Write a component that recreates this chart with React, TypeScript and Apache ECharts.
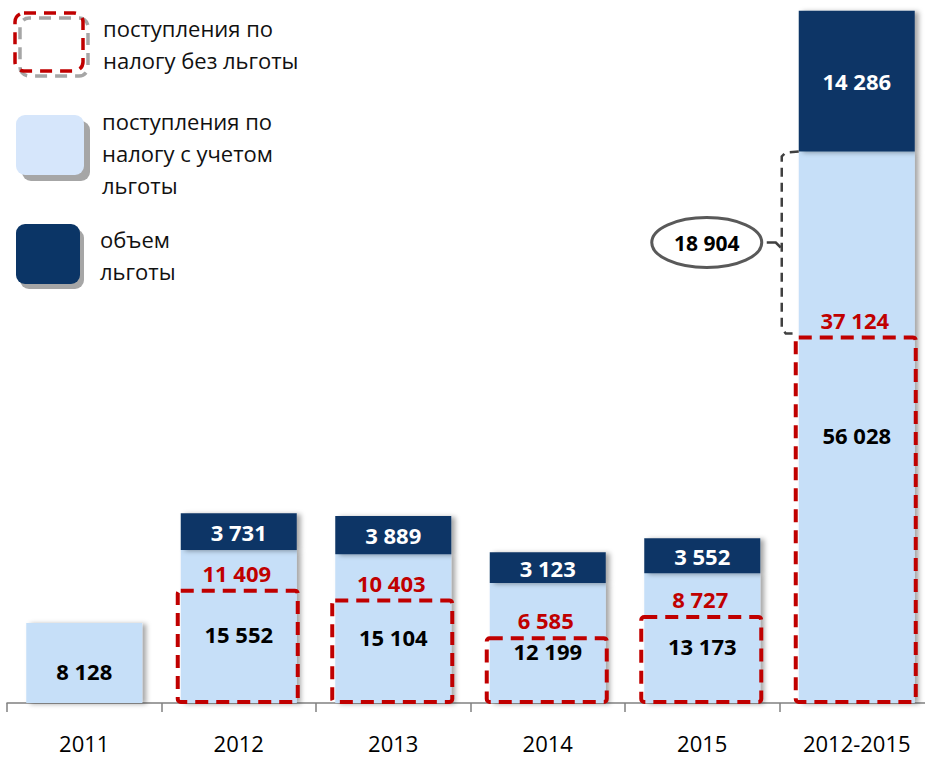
import React, { useEffect, useRef } from "react";
import * as echarts from "echarts";

const categories = ["2011", "2012", "2013", "2014", "2015", "2012-2015"];
const withBenefit = [8128, 15552, 15104, 12199, 13173, 56028];
const benefitVolume: (number | null)[] = [null, 3731, 3889, 3123, 3552, 14286];
const withoutBenefit: (number | null)[] = [null, 11409, 10403, 6585, 8727, 37124];

const legendWithout = ["поступления по", "налогу без льготы"];
const legendWith = ["поступления по", "налогу с учетом", "льготы"];
const legendVolume = ["объем", "льготы"];

const FONT = '"Open Sans", "Noto Sans", sans-serif';
const RED = "#C00000";
const LIGHT = "#C6DFF8";
const DARK = "#0B3566";

const fmt = (v: number) => String(v).replace(/\B(?=(\d{3})+(?!\d))/g, " ");

export default function App() {
  const ref = useRef<HTMLDivElement>(null);
  useEffect(() => {
    if (!ref.current) return;
    const chart = echarts.init(ref.current, null, { renderer: "svg" });
    const shadow = {
      shadowColor: "rgba(0,0,0,0.35)",
      shadowBlur: 5,
      shadowOffsetX: 4,
      shadowOffsetY: 1,
    };
    const dashedData = withoutBenefit
      .map((v, i) => (v == null ? null : [i, v]))
      .filter((d) => d != null);

    chart.setOption({
      animation: false,
      textStyle: { fontFamily: FONT },
      grid: { left: 7, right: 11, top: 9, bottom: 54 },
      xAxis: {
        type: "category",
        data: categories,
        axisLine: { lineStyle: { color: "#808080", width: 1.5 } },
        axisTick: { show: true, length: 9, lineStyle: { color: "#808080", width: 1.5 } },
        axisLabel: { color: "#000", fontSize: 22, margin: 29, fontFamily: FONT },
      },
      yAxis: {
        type: "value",
        min: 0,
        max: 70500,
        show: false,
        splitLine: { show: false },
      },
      series: [
        {
          type: "bar",
          stack: "s",
          barWidth: 116,
          data: withBenefit,
          itemStyle: { color: LIGHT, ...shadow },
          label: {
            show: true,
            position: "inside",
            offset: [0, 8],
            color: "#000",
            fontWeight: "bold",
            fontSize: 22,
            lineHeight: 20,
            fontFamily: FONT,
            formatter: (p: any) => fmt(p.value),
          },
          z: 2,
        },
        {
          type: "bar",
          stack: "s",
          barWidth: 116,
          data: benefitVolume.map((v) => (v == null ? "-" : v)),
          itemStyle: { color: DARK, ...shadow },
          label: {
            show: true,
            position: "inside",
            color: "#fff",
            fontWeight: "bold",
            fontSize: 22,
            fontFamily: FONT,
            formatter: (p: any) => fmt(p.value),
          },
          z: 2,
        },
        {
          type: "custom",
          data: dashedData,
          z: 5,
          renderItem: (params: any, api: any) => {
            const v = api.value(1);
            const top = api.coord([api.value(0), v]);
            const base = api.coord([api.value(0), 0]);
            const w = 120;
            return {
              type: "group",
              children: [
                {
                  type: "rect",
                  shape: { x: top[0] - w / 2 - 1, y: top[1], width: w, height: base[1] - top[1] - 1, r: 3 },
                  style: { fill: "none", stroke: RED, lineWidth: 4, lineDash: [13, 8] },
                },
                {
                  type: "text",
                  style: {
                    text: fmt(v),
                    x: top[0] - 2,
                    y: top[1] - 8,
                    align: "center",
                    verticalAlign: "bottom",
                    fill: RED,
                    font: `bold 22px ${FONT}`,
                    lineHeight: 20,
                  },
                },
              ],
            };
          },
        },
      ],
    });

    const lastIdx = categories.length - 1;
    const pTop = chart.convertToPixel({ seriesIndex: 0 }, [lastIdx, withBenefit[lastIdx]]) as number[];
    const pBot = chart.convertToPixel({ seriesIndex: 0 }, [lastIdx, withoutBenefit[lastIdx] as number]) as number[];
    const barLeft = pTop[0] - 58;
    const bx = barLeft - 17;
    const topY = pTop[1];
    const botY = pBot[1] - 4;
    const midY = (topY + botY) / 2;
    const ecx = bx - 75;
    const erx = 55;
    const diff = withBenefit[lastIdx] - (withoutBenefit[lastIdx] as number);

    const textStyle = (t: string, x: number, y: number) => ({
      type: "text",
      style: { text: t, x, y, fill: "#111", font: `22px ${FONT}`, verticalAlign: "middle" },
    });

    chart.setOption({
      graphic: [
        // legend: without benefit (dashed)
        {
          type: "rect",
          shape: { x: 20, y: 18, width: 68, height: 58, r: 9 },
          style: { fill: "none", stroke: "#A6A6A6", lineWidth: 3.5, lineDash: [12, 8], lineDashOffset: 10 },
        },
        {
          type: "rect",
          shape: { x: 15, y: 13, width: 68, height: 58, r: 9 },
          style: { fill: "none", stroke: RED, lineWidth: 3.5, lineDash: [12, 8] },
        },
        ...legendWithout.map((t, i) => textStyle(t, 103, 28 + i * 32)),
        // legend: with benefit
        { type: "rect", shape: { x: 22, y: 121, width: 68, height: 60, r: 9 }, style: { fill: "#A6A6A6" } },
        { type: "rect", shape: { x: 16, y: 115, width: 68, height: 60, r: 9 }, style: { fill: "#D6E6FB" } },
        ...legendWith.map((t, i) => textStyle(t, 102, 121 + i * 32)),
        // legend: benefit volume
        { type: "rect", shape: { x: 20, y: 229, width: 64, height: 60, r: 9 }, style: { fill: "#A6A6A6" } },
        { type: "rect", shape: { x: 16, y: 224, width: 64, height: 60, r: 9 }, style: { fill: DARK } },
        ...legendVolume.map((t, i) => textStyle(t, 100, 239 + i * 32)),
        // bracket
        {
          type: "polyline",
          shape: {
            points: [
              [barLeft, topY],
              [bx + 4, topY + 1],
              [bx, topY + 5],
              [bx, botY - 5],
              [bx + 4, botY],
              [bx + 12, botY],
            ],
          },
          style: { fill: "none", stroke: "#404040", lineWidth: 2.5, lineDash: [9, 6] },
          z: 10,
        },
        {
          type: "polyline",
          shape: { points: [[ecx + erx + 5, midY], [bx - 6, midY], [bx - 1, midY + 5]] },
          style: { fill: "none", stroke: "#404040", lineWidth: 2.5 },
          z: 10,
        },
        {
          type: "ellipse",
          shape: { cx: ecx, cy: midY, rx: erx, ry: 25 },
          style: { fill: "#fff", stroke: "#595959", lineWidth: 3 },
          z: 10,
        },
        {
          type: "text",
          style: {
            text: fmt(diff),
            x: ecx,
            y: midY,
            align: "center",
            verticalAlign: "middle",
            fill: "#000",
            font: `bold 21px ${FONT}`,
          },
          z: 11,
        },
      ],
    });

    return () => chart.dispose();
  }, []);

  return (
    <div style={{ position: "absolute", left: 0, top: 0, width: 925, height: 757, overflow: "hidden", background: "#fff" }}>
      <div ref={ref} style={{ width: 945, height: 757 }} />
    </div>
  );
}
